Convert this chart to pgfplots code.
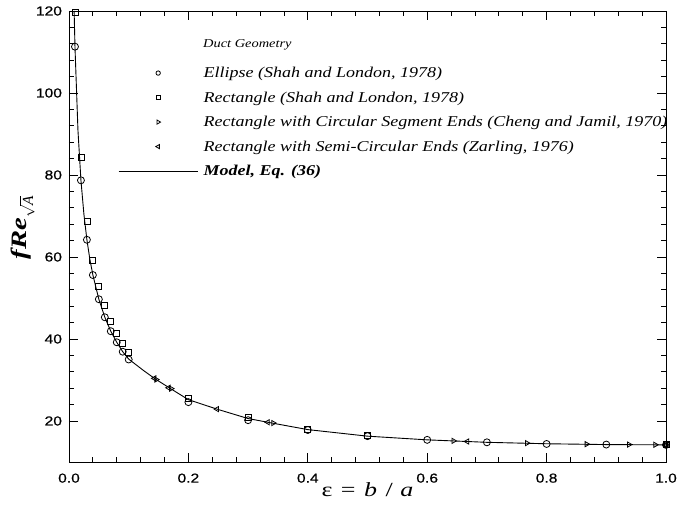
\documentclass[border=0pt]{standalone}
\usepackage{fontspec}
\setmainfont{Liberation Serif}
\setsansfont{Liberation Sans}
\newfontfamily\tickfont{Liberation Sans}[FakeStretch=1.2,FakeBold=0.6]
\newfontfamily\legfont{Liberation Serif}[FakeStretch=1.2]
\newfontfamily\labfont{Liberation Serif}[FakeStretch=1.3]
\usepackage{pgfplots}
\pgfplotsset{compat=1.18}

\pgfplotsset{
  mkleg/.style={legend image code/.code={%
    \path[draw=none,fill=none] (0pt,0pt) -- (79pt,0pt);
    \draw[line width=0.8pt,mark size=2.2pt,#1] plot coordinates {(39.5pt,0pt)};}},
}

\begin{document}
\begin{tikzpicture}
\begin{axis}[
  scale only axis, width=597pt, height=451pt,
  xmin=0, xmax=1.0, ymin=10, ymax=120,
  xtick={0,0.2,...,1.0}, ytick={20,40,...,120},
  minor tick num=4,
  tick align=inside,
  major tick length=9pt, minor tick length=5pt,
  axis line style={line width=0.9pt},
  every tick/.style={black, line width=0.8pt},
  /pgf/number format/assume math mode=true,
  xticklabel style={/pgf/number format/fixed, /pgf/number format/fixed zerofill,
    /pgf/number format/precision=1, yshift=-8pt},
  yticklabel style={xshift=-3.5pt},
  ticklabel style={font=\tickfont\fontsize{13}{13}\selectfont},
  xlabel={ε\hspace{2pt} = \hspace{2pt}\textit{b}\hspace{2pt} / \hspace{1pt}\textit{a}},
  xlabel style={font=\labfont\fontsize{20}{20}\selectfont, at={(axis description cs:0.5,-0.062)}, anchor=center},
  ylabel={\textbf{\textit{fRe}}$_{\sqrt{\mathbf{\mathit{A}}}}$},
  ylabel style={font=\labfont\fontsize{22}{22}\selectfont, at={(axis description cs:-0.077,0.52)}, anchor=center},
  legend style={draw=none, fill=none, inner sep=0pt,
    at={(rel axis cs:0.0821,0.876)}, anchor=north west,
    font=\legfont\itshape\fontsize{15}{15}\selectfont, row sep=12.6pt,
    nodes={inner xsep=5.5pt, inner ysep=0pt}},
  legend cell align=left,
  every axis plot/.append style={line width=0.8pt},
]
% Ellipse (Shah and London, 1978)
\addplot[only marks, mark=o, mark size=3.5pt, mkleg={mark=o}] coordinates {
(0.01,111.3) (0.02,78.7) (0.03,64.2) (0.04,55.6) (0.05,49.7) (0.06,45.3)
(0.07,41.9) (0.08,39.2) (0.09,36.9) (0.10,35.0) (0.2,24.6) (0.3,20.2)
(0.4,17.8) (0.5,16.3) (0.6,15.4) (0.7,14.8) (0.8,14.4) (0.9,14.25) (1.0,14.18)
};
\addlegendentry{Ellipse (Shah and London, 1978)}

% Rectangle (Shah and London, 1978)
\addplot[only marks, mark=square, mark size=3pt, mkleg={mark=square,mark size=2pt}] coordinates {
(0.01,119.6) (0.02,84.3) (0.03,68.6) (0.04,59.2) (0.05,52.8) (0.06,48.1)
(0.07,44.4) (0.08,41.4) (0.09,38.9) (0.10,36.8) (0.2,25.6) (0.3,20.8)
(0.4,18.0) (0.5,16.4) (1.0,14.23)
};
\addlegendentry{Rectangle (Shah and London, 1978)}

% Rectangle with circular segment ends (Cheng and Jamil, 1970)
\addplot[only marks, mark=triangle, mark size=3pt, mark options={rotate=-90},
  mkleg={mark=triangle,mark size=2.4pt,mark options={rotate=-90}}] coordinates {
(0.146,30.1) (0.171,27.9) (0.342,19.5) (0.644,15.15) (0.767,14.6)
(0.867,14.35) (0.938,14.25) (0.982,14.2) (1.0,14.18)
};
\addlegendentry{Rectangle with Circular Segment Ends (Cheng and Jamil, 1970)}

% Rectangle with semi-circular ends (Zarling, 1976)
\addplot[only marks, mark=triangle, mark size=3pt, mark options={rotate=90},
  mkleg={mark=triangle,mark size=2.4pt,mark options={rotate=90}}] coordinates {
(0.143,30.4) (0.167,28.1) (0.248,22.9) (0.333,19.7) (0.667,15.0) (1.0,14.18)
};
\addlegendentry{Rectangle with Semi-Circular Ends (Zarling, 1976)}

% Model, Eq. (36)
\addplot[no marks, line width=0.9pt, legend image code/.code={\draw[line width=0.9pt] (0pt,0pt) -- (79pt,0pt);}] coordinates {
(0.0086,120) (0.01,111.3) (0.015,90.9) (0.02,78.7) (0.025,70.4) (0.03,64.2)
(0.035,59.4) (0.04,55.6) (0.05,49.7) (0.06,45.3) (0.07,41.9) (0.08,39.2)
(0.09,36.9) (0.10,35.1) (0.125,32.3) (0.144,30.3) (0.169,28.0) (0.2,25.2)
(0.25,22.8) (0.3,20.6) (0.34,19.5) (0.4,17.9) (0.5,16.3) (0.6,15.4)
(0.7,14.8) (0.8,14.45) (0.9,14.25) (1.0,14.18)
};
\addlegendentry{\textbf{Model, Eq. (36)}}

\node[anchor=west, inner sep=0pt, font=\legfont\itshape\fontsize{12}{12}\selectfont]
  at (rel axis cs:0.2245,0.9246) {Duct Geometry};

\coordinate (bl) at (rel axis cs:0,0);
\coordinate (tr) at (rel axis cs:1,1);
\end{axis}
\pgfresetboundingbox
\path ([xshift=-69pt,yshift=-54pt]bl) rectangle ([xshift=25pt,yshift=11pt]tr);
\end{tikzpicture}
\end{document}
